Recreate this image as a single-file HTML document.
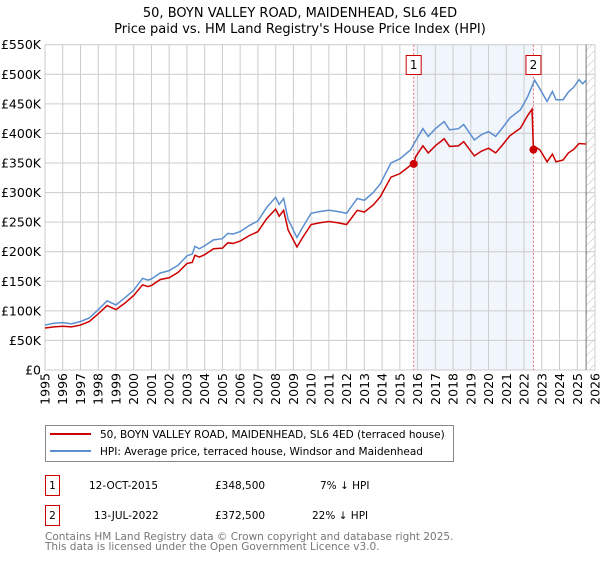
<!DOCTYPE html>
<html><head><meta charset="utf-8"><style>
body{margin:0;background:#fff;font-family:"DejaVu Sans","Liberation Sans",sans-serif;}
svg text{font-family:"DejaVu Sans","Liberation Sans",sans-serif;}
</style></head><body>
<svg id="c" width="600" height="560" xmlns="http://www.w3.org/2000/svg">
<defs><pattern id="h" width="6" height="6" patternUnits="userSpaceOnUse" patternTransform="rotate(45)"><line x1="0" y1="0" x2="0" y2="6" stroke="#bbb" stroke-width="1"/></pattern></defs>
<text x="300" y="17" text-anchor="middle" font-size="13" fill="#000">50, BOYN VALLEY ROAD, MAIDENHEAD, SL6 4ED</text>
<text x="300" y="33" text-anchor="middle" font-size="13" fill="#000">Price paid vs. HM Land Registry's House Price Index (HPI)</text>
<g id="plot"></g>
<g>
<rect x="45.5" y="425.5" width="408" height="36" fill="#fff" stroke="#888"/>
<line x1="50" y1="434" x2="91" y2="434" stroke="#cc0000" stroke-width="2"/>
<text x="100" y="438" font-size="10.5">50, BOYN VALLEY ROAD, MAIDENHEAD, SL6 4ED (terraced house)</text>
<line x1="50" y1="451" x2="91" y2="451" stroke="#5b8fd0" stroke-width="2"/>
<text x="100" y="455" font-size="10.5">HPI: Average price, terraced house, Windsor and Maidenhead</text>
</g>
<g font-size="10.5">
<rect x="45.5" y="475.5" width="14" height="20" fill="#fff" stroke="#cc0000"/>
<text x="52.5" y="489" text-anchor="middle">1</text>
<text x="89" y="489">12-OCT-2015</text><text x="215" y="489">£348,500</text><text x="320" y="489">7% ↓ HPI</text>
<rect x="45.5" y="505.5" width="14" height="20" fill="#fff" stroke="#cc0000"/>
<text x="52.5" y="519" text-anchor="middle">2</text>
<text x="94" y="519">13-JUL-2022</text><text x="215" y="519">£372,500</text><text x="312" y="519">22% ↓ HPI</text>
</g>
<text x="45" y="540" font-size="10.5" fill="#777">Contains HM Land Registry data © Crown copyright and database right 2025.</text>
<text x="45" y="550" font-size="10.5" fill="#777">This data is licensed under the Open Government Licence v3.0.</text>
</svg>
<script>
const yTicks=[0,50,100,150,200,250,300,350,400,450,500,550];
const yLabels=["£0","£50K","£100K","£150K","£200K","£250K","£300K","£350K","£400K","£450K","£500K","£550K"];
const xYears=[1995,1996,1997,1998,1999,2000,2001,2002,2003,2004,2005,2006,2007,2008,2009,2010,2011,2012,2013,2014,2015,2016,2017,2018,2019,2020,2021,2022,2023,2024,2025,2026];
const hpiT=[1995.0,1995.5,1996.0,1996.5,1997.0,1997.5,1998.0,1998.5,1999.0,1999.5,2000.0,2000.5,2000.8,2001.0,2001.5,2002.0,2002.5,2003.0,2003.3,2003.45,2003.7,2004.0,2004.5,2005.0,2005.3,2005.6,2006.0,2006.5,2007.0,2007.5,2008.0,2008.2,2008.45,2008.7,2009.2,2009.5,2010.0,2010.5,2011.0,2011.5,2012.0,2012.6,2013.0,2013.5,2013.9,2014.5,2015.0,2015.6,2015.9,2016.3,2016.6,2017.0,2017.5,2017.8,2018.3,2018.6,2019.2,2019.6,2020.0,2020.4,2020.8,2021.2,2021.8,2022.2,2022.6,2022.9,2023.3,2023.6,2023.8,2024.2,2024.5,2024.8,2025.1,2025.3,2025.5];
const hpiV=[76,79,80,78,82,88,102,117,110,122,135,155,152,154,164,168,177,193,196,209,205,210,220,222,231,230,234,244,252,275,292,280,290,255,224,240,265,268,270,268,265,290,287,300,315,350,357,372,388,408,395,408,420,406,408,415,389,398,403,395,410,426,440,462,490,475,454,471,457,457,470,478,491,484,490];
const ppT=[1995.0,1995.5,1996.0,1996.5,1997.0,1997.5,1998.0,1998.5,1999.0,1999.5,2000.0,2000.5,2000.8,2001.0,2001.5,2002.0,2002.5,2003.0,2003.3,2003.45,2003.7,2004.0,2004.5,2005.0,2005.3,2005.6,2006.0,2006.5,2007.0,2007.5,2008.0,2008.2,2008.45,2008.7,2009.2,2009.5,2010.0,2010.5,2011.0,2011.5,2012.0,2012.6,2013.0,2013.5,2013.9,2014.5,2015.0,2015.6,2015.78,2015.9,2016.3,2016.6,2017.0,2017.5,2017.8,2018.3,2018.6,2019.2,2019.6,2020.0,2020.4,2020.8,2021.2,2021.8,2022.2,2022.45,2022.53,2022.6,2022.9,2023.3,2023.6,2023.8,2024.2,2024.5,2024.8,2025.1,2025.5];
const ppV=[71,73,74,73,76,82,95,109,102,113,126,144,141,143,153,156,165,180,182,194,191,195,205,206,215,214,218,227,234,256,272,260,270,237,208,223,246,249,251,249,246,270,267,279,293,326,332,346,348.5,361,379,367,379,391,378,379,386,362,370,375,367,381,396,409,430,441,372.5,378,372,352,365,352,355,367,373,383,382];
const saleT=[2015.78,2022.53];
const saleV=[348.5,372.5];
const saleLabels=["1","2"];

const NS="http://www.w3.org/2000/svg";
const L=45,R=595,T=44.7,B=370;
const x=t=>L+(t-1995)/31*(R-L);
const y=v=>B-v/550*(B-T);
const g=document.getElementById('plot');
function el(tag,attrs,parent){const e=document.createElementNS(NS,tag);for(const k in attrs)e.setAttribute(k,attrs[k]);(parent||g).appendChild(e);return e;}
const shade=el('rect',{x:x(saleT[0]),y:T,width:x(saleT[1])-x(saleT[0]),height:B-T,fill:'#eef3fc',opacity:0.85});


const hatch=el('rect',{x:x(2025.5),y:T,width:R-x(2025.5),height:B-T,fill:'url(#h)'});


yTicks.forEach((v,i)=>{
  const ln=el('line',{x1:L,x2:R,y1:y(v),y2:y(v),stroke:'#cccccc','stroke-width':1});
  
  
  const tx=el('text',{x:L-4,y:y(v)+4.5,'text-anchor':'end','font-size':12.5,fill:'#000'});
  tx.textContent=yLabels[i];
  
  
});
xYears.forEach(t=>{
  const ln=el('line',{x1:x(t),x2:x(t),y1:T,y2:B,stroke:'#cccccc','stroke-width':1});
  
  
  const tx=el('text',{x:0,y:0,'text-anchor':'end','font-size':12.5,fill:'#000',transform:`translate(${x(t)+4.5},${B+3}) rotate(-90)`});
  tx.textContent=t;
  
  
});
const vl=el('line',{x1:x(2025.5),x2:x(2025.5),y1:T,y2:B,stroke:'#777','stroke-width':1});


saleT.forEach((t,i)=>{
  const d=el('line',{x1:x(t),x2:x(t),y1:T,y2:B,stroke:'#f07070','stroke-width':1,'stroke-dasharray':'2,2'});
  
  
});
const hp=el('polyline',{points:hpiT.map((t,i)=>x(t)+','+y(hpiV[i])).join(' '),fill:'none',stroke:'#5b8fd0','stroke-width':1.5});


const pp=el('polyline',{points:ppT.map((t,i)=>x(t)+','+y(ppV[i])).join(' '),fill:'none',stroke:'#cc0000','stroke-width':1.5});


saleT.forEach((t,i)=>{
  const c=el('circle',{cx:x(t),cy:y(saleV[i]),r:4,fill:'#cc0000'});
  
  
  const b=el('rect',{x:x(t)-7.5,y:55.5,width:15,height:19,fill:'#fff',stroke:'#cc0000'});
  
  
  const tx=el('text',{x:x(t),y:69,'text-anchor':'middle','font-size':12});
  tx.textContent=saleLabels[i];
  
  
});
</script>
</body></html>
